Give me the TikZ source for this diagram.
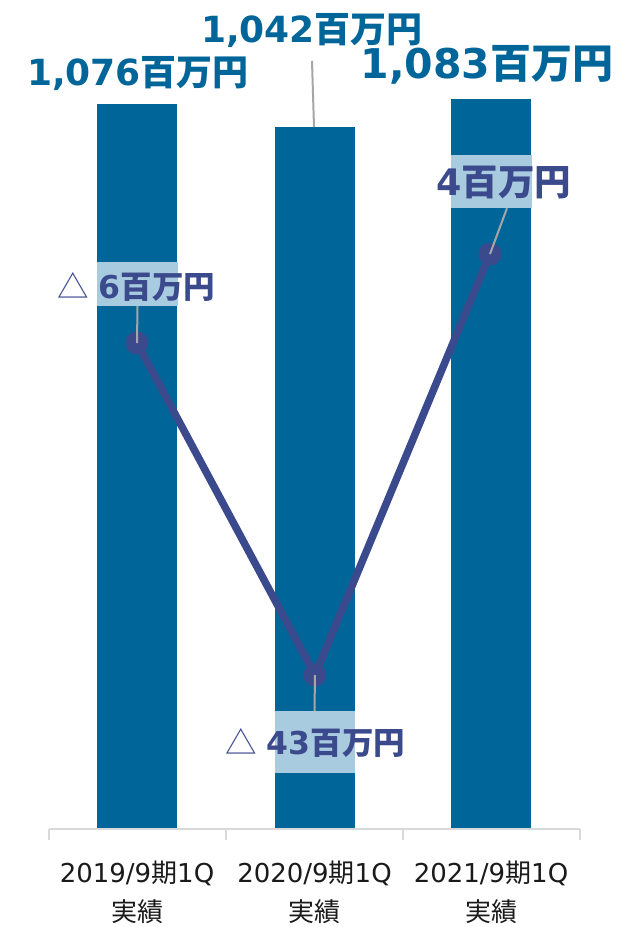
\documentclass[tikz,border=0pt]{standalone}
\usepackage{fontspec}
\setmainfont{DejaVu Sans}
\newfontfamily\cjk{Noto Sans CJK JP}
\definecolor{barblue}{HTML}{006699}
\definecolor{navy}{HTML}{3B4A8C}
\definecolor{lightbox}{HTML}{A9CBE0}
\definecolor{leadergray}{HTML}{A6A6A6}
\definecolor{axisgray}{HTML}{D9D9D9}
\definecolor{cattext}{HTML}{1A1A1A}
\begin{document}
\begin{tikzpicture}[x=1pt,y=-1pt,
  barrect/.style={fill=barblue, draw=none, minimum width=80pt, inner sep=0pt, anchor=south},
  lbox/.style={fill=lightbox, draw=none, inner sep=0pt},
  marker/.style={circle, fill=navy, draw=none, minimum size=23pt, inner sep=0pt},
  trend/.style={draw=navy, line width=7.5pt, line join=round},
  leaderline/.style={draw=leadergray, line width=2pt},
  axisline/.style={draw=axisgray, line width=1.8pt},
  vallabel/.style={text=barblue, font=\bfseries, inner sep=0pt, anchor=base},
  linelabel/.style={text=navy, font=\bfseries, inner sep=0pt, anchor=base west},
  catlabel/.style={text=cattext, inner sep=0pt, anchor=base, font=\fontsize{26}{30}\selectfont}
]
\useasboundingbox (0,0) rectangle (631,927);
\fill[white] (0,0) rectangle (631,927);

% bars
\node[barrect, minimum height=725pt] (b1) at (137,829) {};
\node[barrect, minimum height=702pt] (b2) at (314.5,829) {};
\node[barrect, minimum height=730pt] (b3) at (491,829) {};

% axis
\coordinate (a0) at (49,829);
\coordinate (a1) at (226,829);
\coordinate (a2) at (403,829);
\coordinate (a3) at (580,829);
\draw[axisline] (a0) -- (a3);
\foreach \t in {a0,a1,a2,a3} \draw[axisline] (\t) -- ++(0,11);

% label boxes
\node[lbox, minimum width=81pt, minimum height=44pt] (box1) at (137.5,284) {};
\node[lbox, minimum width=80pt, minimum height=62pt] (box2) at (314.5,742) {};
\node[lbox, minimum width=81pt, minimum height=53pt] (box3) at (491,181.5) {};

% trend line
\node[marker] (p1) at (137,343) {};
\node[marker] (p2) at (315,675) {};
\node[marker] (p3) at (490,254) {};
\draw[trend] (p1.center) -- (p2.center) -- (p3.center);

% leaders
\draw[leaderline] (box1.south) -- (p1.center);
\draw[leaderline] (box2.north) -- (p2.center);
\draw[leaderline] ([xshift=16pt]box3.south) -- (p3.center);
\coordinate (v2foot) at (312,61);
\coordinate (b2top) at (314,127);
\draw[leaderline] (v2foot) -- (b2top);

% value labels
\node[vallabel, font=\bfseries\fontsize{36}{40}\selectfont] (v1) at (138,85) {1,076{\cjk 百万円}};
\node[vallabel, font=\bfseries\fontsize{36}{40}\selectfont] (v2) at (312,42) {1,042{\cjk 百万円}};
\node[vallabel, font=\bfseries\fontsize{41}{45}\selectfont] (v3) at (487,78) {1,083{\cjk 百万円}};

% line labels
\node[linelabel, font=\fontsize{31.5}{36}\selectfont] (l1) at (57,298) {{\cjk\mdseries △} {\bfseries 6\cjk 百万円}};
\node[linelabel, font=\fontsize{31.5}{36}\selectfont] (l2) at (225,754) {{\cjk\mdseries △} {\bfseries 43\cjk 百万円}};
\node[linelabel, font=\fontsize{36.5}{40}\selectfont] (l3) at (436,195) {{\bfseries 4\cjk 百万円}};

% category labels
\node[catlabel] (c1) at (137,882) {2019/9{\cjk 期}1Q};
\node[catlabel] (c1b) at (137,921) {\cjk 実績};
\node[catlabel] (c2) at (314.5,882) {2020/9{\cjk 期}1Q};
\node[catlabel] (c2b) at (314.5,921) {\cjk 実績};
\node[catlabel] (c3) at (491,882) {2021/9{\cjk 期}1Q};
\node[catlabel] (c3b) at (491,921) {\cjk 実績};
\end{tikzpicture}
\end{document}
